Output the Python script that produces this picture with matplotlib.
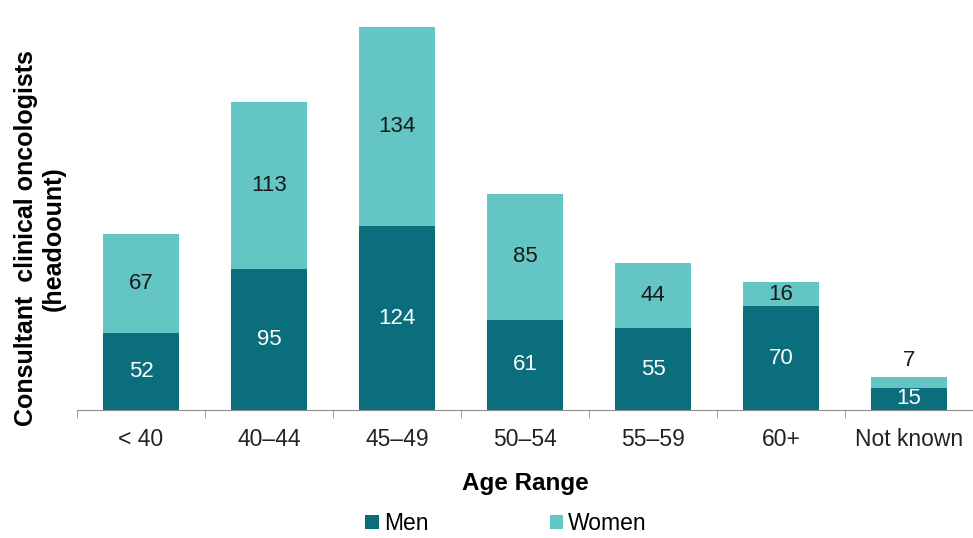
import matplotlib.pyplot as plt
import numpy as np

plt.rcParams['font.family'] = ['Liberation Sans', 'DejaVu Sans']

categories = ["< 40", "40–44", "45–49", "50–54", "55–59", "60+", "Not known"]
men = [52, 95, 124, 61, 55, 70, 15]
women = [67, 113, 134, 85, 44, 16, 7]

MEN_COLOR = "#0b6e7d"
WOMEN_COLOR = "#64c6c4"


def main() -> None:
    fig = plt.figure(figsize=(9.73, 5.38), dpi=100)
    ax = fig.add_axes([0.0791, 0.2379, 0.9209, 0.7249])

    x = np.arange(len(categories))
    width = 0.6
    b_men = ax.bar(x, men, width, color=MEN_COLOR, label="Men")
    b_women = ax.bar(x, women, width, bottom=men, color=WOMEN_COLOR, label="Women")

    # segment labels: inside unless the segment is too thin
    for i, (m, w) in enumerate(zip(men, women)):
        ax.text(x[i], m / 2, str(m), ha="center", va="center",
                color="white", fontsize=16)
        if w >= 12:
            ax.text(x[i], m + w / 2, str(w), ha="center", va="center",
                    color="#1a1a1a", fontsize=16)
        else:
            ax.text(x[i], m + w + 4, str(w), ha="center", va="bottom",
                    color="#1a1a1a", fontsize=16)

    ax.set_xlim(-0.5, len(categories) - 0.5)
    ax.set_ylim(0, 263)
    ax.set_xticks(x)
    ax.set_xticklabels(categories, fontsize=16.5, color="#222222")
    ax.set_xticks(np.arange(-0.5, len(categories)), minor=True)
    ax.tick_params(axis="x", which="major", length=0, pad=13)
    ax.tick_params(axis="x", which="minor", length=6, color="#8c8c8c")
    ax.set_yticks([])

    for side in ("top", "right", "left"):
        ax.spines[side].set_visible(False)
    ax.spines["bottom"].set_color("#8c8c8c")

    ax.set_xlabel("Age Range", fontsize=17.5, fontweight="bold", labelpad=15)
    ax.set_ylabel("Consultant  clinical oncologists\n(headoount)",
                  fontsize=18, fontweight="bold", linespacing=1.15)
    ax.yaxis.set_label_coords(-0.013, 0.44)

    fig.legend(handles=[b_men, b_women], labels=["Men", "Women"],
               loc="center", bbox_to_anchor=(0.52, 0.027), ncol=2,
               frameon=False, fontsize=16.5, handlelength=0.6, handleheight=0.6,
               handletextpad=0.2, columnspacing=5.3)

    fig.savefig("out.png", dpi=100)


if __name__ == "__main__":
    main()
